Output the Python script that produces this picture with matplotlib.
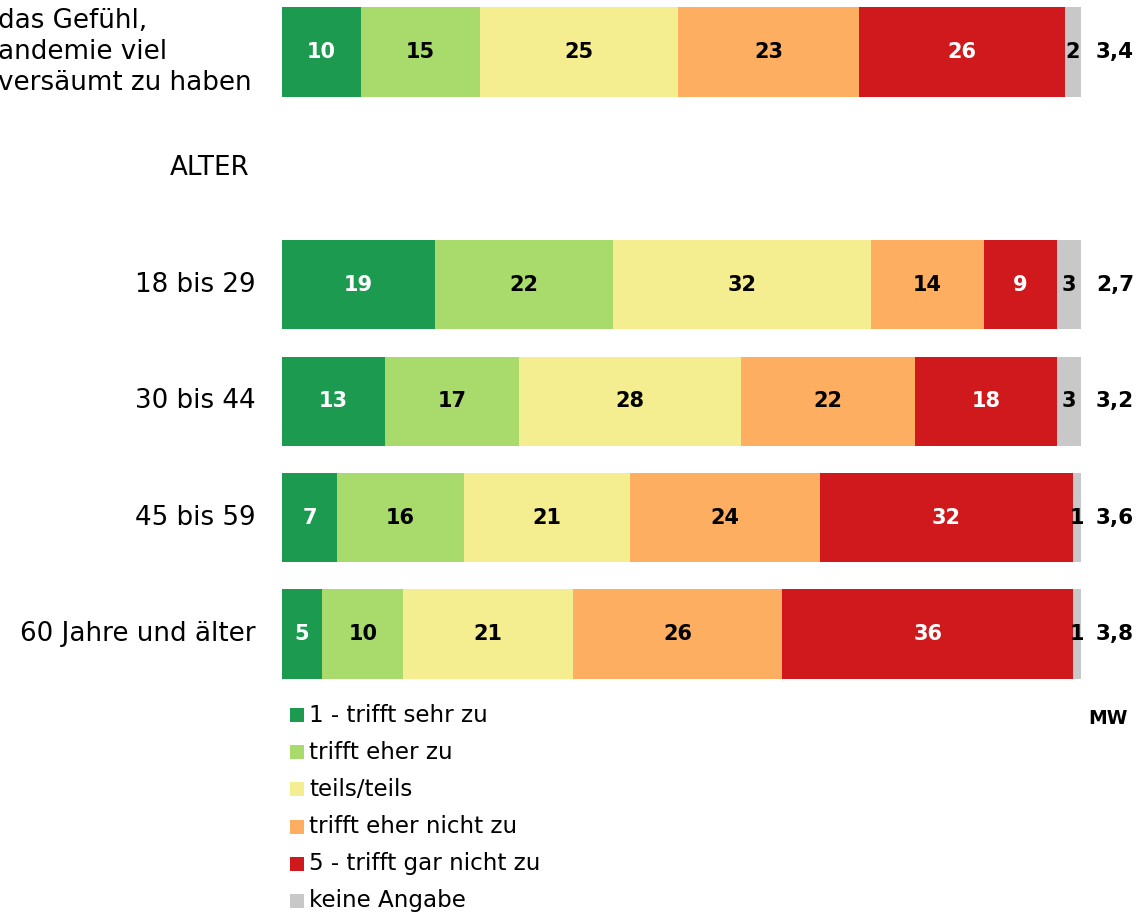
import matplotlib
matplotlib.use("Agg")
import matplotlib.pyplot as plt
import numpy as np
from matplotlib.patches import Rectangle
from matplotlib.transforms import blended_transform_factory

plt.rcParams["font.family"] = ["DejaVu Sans"]

W, H = 1137, 914

ROW_LABELS = ["das Gefühl,\nandemie viel\nversäumt zu haben", "18 bis 29", "30 bis 44", "45 bis 59", "60 Jahre und älter"]
ROW_POS = [0, 2, 3, 4, 5]
CATEGORIES = ["1 - trifft sehr zu", "trifft eher zu", "teils/teils",
              "trifft eher nicht zu", "5 - trifft gar nicht zu", "keine Angabe"]
VALUES = [
    [10, 15, 25, 23, 26, 2],
    [19, 22, 32, 14, 9, 3],
    [13, 17, 28, 22, 18, 3],
    [7, 16, 21, 24, 32, 1],
    [5, 10, 21, 26, 36, 1],
]
MEANS = ["3,4", "2,7", "3,2", "3,6", "3,8"]

COLORS = ["#1C9A4F", "#A8DA6C", "#F5EE91", "#FDAE61", "#D0191C", "#C8C8C8"]
TEXT_COLORS = ["white", "black", "black", "black", "white", "black"]

fig = plt.figure(figsize=(W / 100, H / 100), dpi=100)

# axes covers pixel rows 0..700, bars from x=282 to 1081
top_px, bot_px = 0, 700
ax = fig.add_axes([282 / W, (H - bot_px) / H, 799 / W, (bot_px - top_px) / H])
step = 116.4
ax.set_ylim((bot_px - 52) / step, (top_px - 52) / step)
ax.set_xlim(0, 100)
ax.axis("off")

for pos, vals in zip(ROW_POS, VALUES):
    vals = np.array(vals, dtype=float)
    shares = vals / vals.sum() * 100
    left = 0
    for i, (v, s) in enumerate(zip(vals, shares)):
        ax.barh(pos, s, left=left, height=0.765, color=COLORS[i], edgecolor="none")
        ax.text(left + s / 2, pos, f"{int(v)}", ha="center", va="center",
                fontsize=15, fontweight="bold", color=TEXT_COLORS[i])
        left += s

lab = blended_transform_factory(fig.transFigure, ax.transData)
for pos, label, mw in zip(ROW_POS, ROW_LABELS, MEANS):
    if pos == 0:
        ax.text(-2 / W, pos, label, transform=lab, ha="left", va="center",
                fontsize=18.8, linespacing=1.23, multialignment="left")
    else:
        ax.text(256 / W, pos, label, transform=lab, ha="right", va="center", fontsize=18.8)
    ax.text(1115 / W, pos, mw, transform=lab, ha="center", va="center",
            fontsize=15.5, fontweight="bold")

ax.text(249 / W, 1, "ALTER", transform=lab, ha="right", va="center", fontsize=18.8)

fig.text(1108 / W, 1 - 718 / H, "MW", ha="center", va="center", fontsize=13.5, fontweight="bold")

# legend
for i, cat in enumerate(CATEGORIES):
    y = 715 + 37.2 * i
    fig.add_artist(Rectangle((290 / W, 1 - (y + 7) / H), 14 / W, 14 / H,
                             transform=fig.transFigure, color=COLORS[i], lw=0))
    fig.text(309 / W, 1 - y / H, cat, ha="left", va="center", fontsize=16.6)

fig.savefig("out.png", dpi=100)
